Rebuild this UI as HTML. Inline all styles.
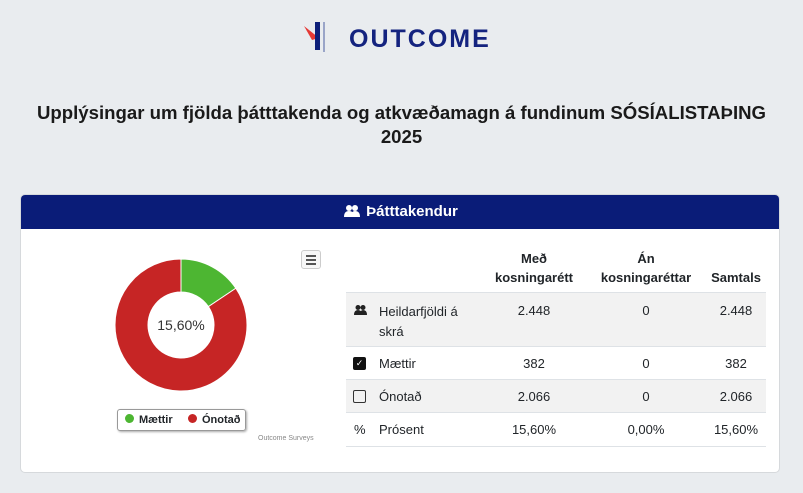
<!DOCTYPE html>
<html><head><meta charset="utf-8">
<style>
*{box-sizing:border-box;margin:0;padding:0}
body{width:803px;height:493px;background:#e9ecef;font-family:"Liberation Sans",sans-serif;position:relative;overflow:hidden;color:#212529}
.abs{position:absolute}
.title{left:0;width:803px;top:101px;text-align:center;font-weight:bold;font-size:18.6px;line-height:24px;color:#1a1a1a}
.card{left:20px;top:194px;width:760px;height:279px;background:#fff;border:1px solid #d6d9dc;border-radius:5px;overflow:hidden}
.head{left:0;top:0;width:760px;height:34px;background:#0a1c78;color:#fff;font-weight:bold;font-size:15px;line-height:34px;text-align:center}
.row{left:346px;width:420px;border-bottom:1px solid #dee2e6}
.c{position:absolute;text-align:center;font-size:13px}
</style></head><body>
<div class="abs" style="left:302px;top:18px;width:200px;height:40px">
<svg width="200" height="40">
<polygon points="2,8 17,20 10,22" fill="#e53935"/>
<rect x="13" y="4" width="5" height="28" fill="#0d1f7a"/>
<rect x="21" y="4" width="2" height="30" fill="#9aa5c8"/>
</svg>
<span class="abs" style="left:47px;top:7px;font-size:25px;color:#14237f;font-weight:bold;letter-spacing:2px">OUTCOME</span>
</div>
<div class="abs title">Upplýsingar um fjölda þátttakenda og atkvæðamagn á fundinum SÓSÍALISTAÞING<br>2025</div>
<div class="abs card">
<div class="abs head"><svg width="16" height="12" style="vertical-align:-1px;margin-right:6px"><circle cx="5" cy="3" r="3" fill="#fff"/><circle cx="11" cy="3" r="3" fill="#fff"/><path d="M0,12 Q0,6 5,6 Q10,6 10,12Z M7,12 Q7,6 11,6 Q16,6 16,12Z" fill="#fff"/></svg>Þátttakendur</div>
<div class="abs" style="left:280px;top:55px;width:20px;height:19px;border:1px solid #ccc;border-radius:3px;background:#f7f7f7">
<div style="margin:4px 4px 0;height:2px;background:#555"></div><div style="margin:2px 4px 0;height:2px;background:#555"></div><div style="margin:2px 4px 0;height:2px;background:#555"></div></div>
<svg class="abs" id="donut" style="left:0;top:0" width="330" height="279"></svg>
<div class="abs" style="left:96px;top:214px;width:129px;height:22px;border:1px solid #999;border-radius:3px;box-shadow:1px 1px 2px #aaa;font-size:11px;font-weight:bold;line-height:20px">
<span class="abs" style="left:7px"><span style="display:inline-block;width:9px;height:9px;border-radius:50%;background:#4db632;margin-right:5px"></span>Mættir</span>
<span class="abs" style="left:70px"><span style="display:inline-block;width:9px;height:9px;border-radius:50%;background:#c62525;margin-right:5px"></span>Ónotað</span>
</div>
<div class="abs" style="left:237px;top:240px;font-size:7px;color:#888">Outcome Surveys</div>
</div>
<div class="abs" style="left:346px;top:245px;width:420px;height:48px;border-bottom:1px solid #dee2e6;font-weight:bold">
<div class="c" style="left:138px;width:100px;top:4px;line-height:19px;font-weight:bold">Með<br>kosningarétt</div>
<div class="c" style="left:250px;width:100px;top:4px;line-height:19px;font-weight:bold">Án<br>kosningaréttar</div>
<div class="c" style="left:355px;width:70px;top:23px;line-height:19px;font-weight:bold">Samtals</div>
</div>
<div class="abs row" style="top:293px;height:54px;background:#f2f2f2">
<svg class="abs" style="left:8px;top:12px" width="13" height="10"><circle cx="4" cy="2.5" r="2.5" fill="#222"/><circle cx="9" cy="2.5" r="2.5" fill="#222"/><path d="M0,10 Q0,5 4,5 Q8,5 8,10Z M6,10 Q6,5 9,5 Q13,5 13,10Z" fill="#222"/></svg>
<div class="abs" style="left:33px;top:9px;font-size:13px;line-height:20px">Heildarfjöldi á<br>skrá</div>
<div class="c" style="left:138px;width:100px;top:10px">2.448</div><div class="c" style="left:250px;width:100px;top:10px">0</div><div class="c" style="left:355px;width:70px;top:10px">2.448</div>
</div>
<div class="abs row" style="top:347px;height:33px">
<div class="abs" style="left:7px;top:10px;width:13px;height:13px;background:#111;border-radius:2px;color:#fff;font-size:9px;text-align:center;line-height:13px">✓</div>
<div class="abs" style="left:33px;top:9px;font-size:13px">Mættir</div>
<div class="c" style="left:138px;width:100px;top:9px">382</div><div class="c" style="left:250px;width:100px;top:9px">0</div><div class="c" style="left:355px;width:70px;top:9px">382</div>
</div>
<div class="abs row" style="top:380px;height:33px;background:#f2f2f2">
<div class="abs" style="left:7px;top:10px;width:13px;height:13px;border:1.5px solid #333;border-radius:2px"></div>
<div class="abs" style="left:33px;top:9px;font-size:13px">Ónotað</div>
<div class="c" style="left:138px;width:100px;top:9px">2.066</div><div class="c" style="left:250px;width:100px;top:9px">0</div><div class="c" style="left:355px;width:70px;top:9px">2.066</div>
</div>
<div class="abs row" style="top:413px;height:34px">
<div class="abs" style="left:8px;top:9px;font-size:13px">%</div>
<div class="abs" style="left:33px;top:9px;font-size:13px">Prósent</div>
<div class="c" style="left:138px;width:100px;top:9px">15,60%</div><div class="c" style="left:250px;width:100px;top:9px">0,00%</div><div class="c" style="left:355px;width:70px;top:9px">15,60%</div>
</div>
<script>
const categories=["Mættir","Ónotað"];
const values=[382,2066];
const colors=["#4db632","#c62525"];
const centerLabel="15,60%";
const svg=document.getElementById('donut');
const NS="http://www.w3.org/2000/svg";
const cx=160,cy=130,R=66,r=33;
const total=values.reduce((a,b)=>a+b,0);
let a0=-Math.PI/2;
function pt(rad,a){return [cx+rad*Math.cos(a),cy+rad*Math.sin(a)];}
values.forEach((v,i)=>{
  const a1=a0+v/total*2*Math.PI;
  const large=(a1-a0)>Math.PI?1:0;
  const [x0,y0]=pt(R,a0),[x1,y1]=pt(R,a1),[x2,y2]=pt(r,a1),[x3,y3]=pt(r,a0);
  const p=document.createElementNS(NS,'path');
  p.setAttribute('d',`M${x0},${y0}A${R},${R} 0 ${large} 1 ${x1},${y1}L${x2},${y2}A${r},${r} 0 ${large} 0 ${x3},${y3}Z`);
  p.setAttribute('fill',colors[i]);p.setAttribute('stroke','#fff');p.setAttribute('stroke-width','1');
  
  
  svg.appendChild(p);a0=a1;
});
const t=document.createElementNS(NS,'text');
t.setAttribute('x',cx);t.setAttribute('y',cy+5);t.setAttribute('text-anchor','middle');
t.setAttribute('font-size','14');t.setAttribute('fill','#333');t.setAttribute('font-family','Liberation Sans, sans-serif');
t.textContent=centerLabel;


svg.appendChild(t);
</script>
</body></html>
